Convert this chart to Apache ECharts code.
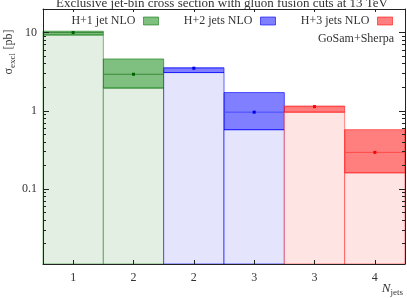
<!DOCTYPE html>
<html><head><meta charset="utf-8">
<script src="https://cdn.jsdelivr.net/npm/echarts@6/dist/echarts.min.js"></script>
<style>html,body{margin:0;padding:0;background:#fff}#c{width:407px;height:298px}</style>
</head><body><div id="c"></div>
<script>
// ---- data ----
const categories = ['1', '2', '2', '3', '3', '4'];
const seriesNames = ['H+1 jet NLO', 'H+2 jets NLO', 'H+3 jets NLO'];
const h1Bins = [0, 1];
const h1Central = [10.0, 2.93];
const h1Low = [9.3, 1.95];
const h1High = [10.4, 4.6];
const h2Bins = [2, 3];
const h2Central = [3.5, 0.96];
const h2Low = [3.08, 0.573];
const h2High = [3.55, 1.71];
const h3Bins = [4, 5];
const h3Central = [1.13, 0.294];
const h3Low = [0.96, 0.161];
const h3High = [1.15, 0.573];
const yMajorTicks = [0.1, 1, 10];
const yMajorLabels = ['0.1', '1', '10'];
const yMinorTicks = [0.02, 0.03, 0.04, 0.05, 0.06, 0.07, 0.08, 0.09,
                     0.2, 0.3, 0.4, 0.5, 0.6, 0.7, 0.8, 0.9,
                     2, 3, 4, 5, 6, 7, 8, 9];
const yMin = 0.011, yMax = 20;

// ---- styles ----
const SERIF = '"Liberation Serif", "DejaVu Serif", serif';
const palette = [
  { band: 'rgba(0,128,0,0.5)', bandStroke: 'rgba(0,110,0,0.55)', light: '#e4efe4', lightStroke: 'rgba(0,120,0,0.5)', line: '#3a8a3a', dot: '#006400' },
  { band: 'rgba(0,0,255,0.5)', bandStroke: 'rgba(0,0,255,0.6)', light: '#e4e4fc', lightStroke: 'rgba(0,0,255,0.6)', line: '#4a4aff', dot: '#0000e6' },
  { band: 'rgba(255,0,0,0.5)', bandStroke: 'rgba(255,0,0,0.55)', light: '#ffe4e4', lightStroke: 'rgba(255,0,0,0.45)', line: '#ff4a4a', dot: '#ff0000' }
];

function buildData(bins, c, lo, hi) {
  return bins.map((b, i) => [b, c[i], lo[i], hi[i]]);
}
const allData = [
  buildData(h1Bins, h1Central, h1Low, h1High),
  buildData(h2Bins, h2Central, h2Low, h2High),
  buildData(h3Bins, h3Central, h3Low, h3High)
];

function makeRender(p) {
  return function (params, api) {
    const i = api.value(0);
    const pc = api.coord([i, api.value(1)]);
    const yl = api.coord([i, api.value(2)])[1];
    const yh = api.coord([i, api.value(3)])[1];
    const w = api.size([1, 0])[0];
    const cs = params.coordSys;
    const bottom = cs.y + cs.height;
    const left = pc[0] - w / 2;
    return {
      type: 'group',
      children: [
        { type: 'rect', shape: { x: left, y: yl, width: w, height: bottom - yl },
          style: { fill: p.light, stroke: p.lightStroke, lineWidth: 1 } },
        { type: 'rect', shape: { x: left, y: yh, width: w, height: yl - yh },
          style: { fill: p.band, stroke: p.bandStroke, lineWidth: 1 } },
        { type: 'line', shape: { x1: left, y1: pc[1], x2: left + w, y2: pc[1] },
          style: { stroke: p.line, lineWidth: 1 } },
        { type: 'rect', shape: { x: pc[0] - 1.5, y: pc[1] - 1.5, width: 3, height: 3 },
          style: { fill: p.dot } }
      ]
    };
  };
}

const L = Math.log10;
const tickAxisBase = {
  type: 'value', min: L(yMin), max: L(yMax), z: 5,
  splitLine: { show: false }
};
const axisColor = '#222';
const tickColor = '#222';

const option = {
  animation: false,
  backgroundColor: '#fff',
  grid: { left: 43, right: 2, top: 9, bottom: 34 },
  xAxis: [
    { type: 'category', data: categories, position: 'bottom', z: 5,
      axisLine: { show: true, onZero: false, lineStyle: { color: axisColor } },
      axisTick: { show: true, inside: true, length: 4, alignWithLabel: true, lineStyle: { color: tickColor } },
      axisLabel: { margin: 8, fontFamily: SERIF, fontSize: 12, color: '#333' },
      splitLine: { show: false } },
    { type: 'category', data: categories, position: 'top', z: 5,
      axisLine: { show: true, onZero: false, lineStyle: { color: axisColor } },
      axisTick: { show: true, inside: true, length: 3, alignWithLabel: true, lineStyle: { color: tickColor } },
      axisLabel: { show: false }, splitLine: { show: false } }
  ],
  yAxis: [
    { type: 'log', min: yMin, max: yMax, position: 'left',
      axisLine: { show: false, onZero: false }, axisTick: { show: false }, axisLabel: { show: false }, splitLine: { show: false } },
    Object.assign({}, tickAxisBase, { position: 'left',
      axisLine: { show: true, onZero: false, lineStyle: { color: axisColor } },
      axisTick: { show: true, inside: true, length: 6, customValues: yMajorTicks.map(L), lineStyle: { color: tickColor } },
      axisLabel: { show: true, margin: 6, customValues: yMajorTicks.map(L), fontFamily: SERIF, fontSize: 12, color: '#333',
        formatter: function (v) { const k = yMajorTicks.findIndex(t => Math.abs(L(t) - v) < 1e-6); return k >= 0 ? yMajorLabels[k] : ''; } } }),
    Object.assign({}, tickAxisBase, { position: 'left',
      axisLine: { show: false, onZero: false },
      axisTick: { show: true, inside: true, length: 3, customValues: yMinorTicks.map(L), lineStyle: { color: tickColor } },
      axisLabel: { show: false } }),
    Object.assign({}, tickAxisBase, { position: 'right',
      axisLine: { show: true, onZero: false, lineStyle: { color: axisColor } },
      axisTick: { show: true, inside: true, length: 6, customValues: yMajorTicks.map(L), lineStyle: { color: tickColor } },
      axisLabel: { show: false } }),
    Object.assign({}, tickAxisBase, { position: 'right',
      axisLine: { show: false, onZero: false },
      axisTick: { show: true, inside: true, length: 3, customValues: yMinorTicks.map(L), lineStyle: { color: tickColor } },
      axisLabel: { show: false } })
  ],
  legend: seriesNames.map((n, k) => ({
    data: [n], right: [248, 131, 14][k], top: 15, padding: 0, align: 'right',
    icon: 'rect', itemWidth: 15, itemHeight: 8,
    textStyle: { fontFamily: SERIF, fontSize: 12, color: '#333', padding: [0, 3, 0, 0] },
    itemStyle: { color: palette[k].band, borderColor: palette[k].bandStroke, borderWidth: 1 }
  })),
  series: seriesNames.map((n, k) => ({
    name: n, type: 'custom', xAxisIndex: 0, yAxisIndex: 0,
    itemStyle: { color: palette[k].band },
    encode: { x: 0, y: 1 },
    renderItem: makeRender(palette[k]),
    data: allData[k]
  })),
  graphic: [
    { type: 'text', x: 222, y: 4, style: { text: 'Exclusive jet-bin cross section with gluon fusion cuts at 13 TeV',
      fontFamily: SERIF, fontSize: 13, fill: '#333', align: 'center', verticalAlign: 'middle' } },
    { type: 'text', x: 394, y: 39, style: { text: 'GoSam+Sherpa', fontFamily: SERIF, fontSize: 12, fill: '#333', align: 'right', verticalAlign: 'middle' } },
    { type: 'text', x: 403, y: 289, style: { text: '{n|N}{s|jets}', align: 'right', verticalAlign: 'middle', fill: '#333',
      rich: { n: { fontFamily: SERIF, fontSize: 13, fontStyle: 'italic', fill: '#333', verticalAlign: 'middle', lineHeight: 16 },
              s: { fontFamily: SERIF, fontSize: 9, fill: '#333', verticalAlign: 'bottom', lineHeight: 16 } } } },
    { type: 'text', x: 9, y: 52, rotation: Math.PI / 2, style: { text: '{n|σ}{s|excl} {n|[pb]}', align: 'center', verticalAlign: 'middle', fill: '#333',
      rich: { n: { fontFamily: SERIF, fontSize: 12, fontStyle: 'normal', fill: '#333', verticalAlign: 'middle', lineHeight: 16 },
              s: { fontFamily: SERIF, fontSize: 9, fill: '#333', verticalAlign: 'bottom', lineHeight: 16 } } } }
  ]
};
echarts.init(document.getElementById('c')).setOption(option);
</script></body></html>
